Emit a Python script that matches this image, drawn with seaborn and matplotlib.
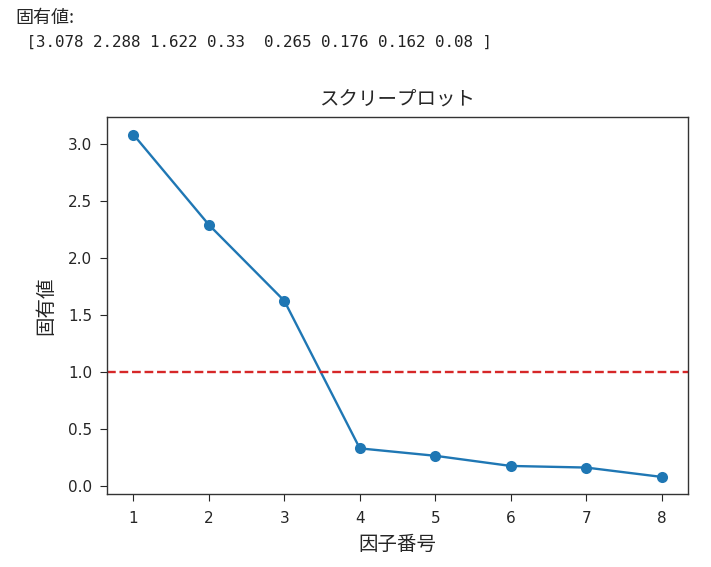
import matplotlib
matplotlib.use("Agg")
import numpy as np
import pandas as pd
import matplotlib.pyplot as plt
import seaborn as sns

# values
factor_numbers = [1, 2, 3, 4, 5, 6, 7, 8]
eigenvalues = [3.078, 2.288, 1.622, 0.33, 0.265, 0.176, 0.162, 0.08]
threshold = 1.0

title_text = "スクリープロット"
x_label = "因子番号"
y_label = "固有値"
printed_header = "固有値:"
printed_array = " [3.078 2.288 1.622 0.33  0.265 0.176 0.162 0.08 ]"

sns.set_style("ticks")
plt.rcParams['font.family'] = ['DejaVu Sans', 'Noto Sans CJK JP']

df = pd.DataFrame({"factor": factor_numbers, "eigen": eigenvalues})

fig = plt.figure(figsize=(7.11, 5.67), dpi=100)
ax = fig.add_axes([0.1505, 0.1287, 0.8172, 0.6641])

sns.lineplot(data=df, x="factor", y="eigen", marker="o", markersize=8,
             markeredgewidth=0, color="#1f77b4", linewidth=1.7, ax=ax)
ax.axhline(threshold, color="#d62728", linestyle="--", linewidth=1.7)

ax.set_title(title_text, fontsize=14, pad=9)
ax.set_xlabel(x_label, fontsize=14, labelpad=6)
ax.set_ylabel(y_label, fontsize=14, labelpad=9)
ax.tick_params(labelsize=11, length=5)
ax.tick_params(axis="x", pad=7.5)
ax.tick_params(axis="y", pad=5.5)
ax.set_xticks(factor_numbers)
for s in ax.spines.values():
    s.set_linewidth(1.0)
    s.set_color("#333333")

# notebook output printed above the plot
fig.text(15 / 711, 1 - 18 / 567, printed_header, fontsize=13,
         family=['Noto Sans CJK JP', 'DejaVu Sans'], va="center", ha="left")
fig.text(17 / 711, 1 - 42 / 567, printed_array, fontsize=11.4,
         family="DejaVu Sans Mono", color="#222222", va="center", ha="left")

fig.savefig("out.png", dpi=100)
